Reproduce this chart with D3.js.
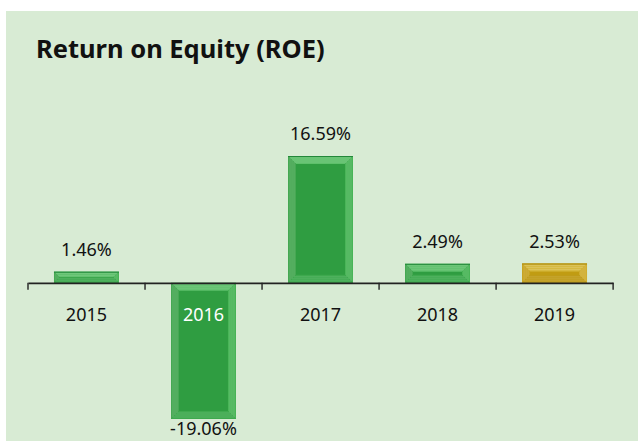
<!DOCTYPE html>
<html>
<head>
<meta charset="utf-8">
<script src="https://cdn.jsdelivr.net/npm/d3@7"></script>
<style>
  html, body { margin: 0; padding: 0; background: #fff; }
  svg { display: block; }
</style>
</head>
<body>
<div id="chart"></div>
<script>
const years = ['2015', '2016', '2017', '2018', '2019']
const roe = [1.46, -19.06, 16.59, 2.49, 2.53]
const highlight = ['2019']

const W = 638
const H = 441

const svg = d3.select('#chart').append('svg').attr('width', W).attr('height', H)

// panel
svg.append('rect').attr('x', 6).attr('y', 11).attr('width', W - 6).attr('height', H - 11)
  .attr('fill', '#d8ebd4')

svg.append('text').attr('x', 36).attr('y', 58)
  .attr('font-family', 'Noto Sans, sans-serif').attr('font-weight', 700).attr('font-size', 25.5)
  .attr('fill', '#111').text('Return on Equity (ROE)')

const x = d3.scaleBand(years, [28, 613]).paddingInner(0.445).paddingOuter(0.222)
// plot bottom cuts the deepest bar
const y = d3.scaleLinear([-17.8, 16.59], [419, 156]).clamp(true)

const colors = {
  green: { face: '#2f9d41', top: '#5ec06b', left: '#46a853', right: '#4ab558', bottom: '#3ea94e', edge: '#23873a' },
  gold: { face: '#c19c12', top: '#d6b940', left: '#c8a424', right: '#d0ae30', bottom: '#bf9b18', edge: '#a8870c' }
}

const bars = svg.append('g')
years.forEach((yr, i) => {
  const v = roe[i]
  const c = highlight.includes(yr) ? colors.gold : colors.green
  const x0 = x(yr), x1 = x(yr) + x.bandwidth()
  const y0 = Math.min(y(v), y(0)), y1 = Math.max(y(v), y(0))
  const b = Math.min(8, (y1 - y0) / 2, (x1 - x0) / 2)
  const g = bars.append('g')
  g.append('rect').attr('x', x0).attr('y', y0).attr('width', x1 - x0).attr('height', y1 - y0).attr('fill', c.face)
  const poly = (pts, fill) => g.append('polygon').attr('points', pts.map(p => p.join(',')).join(' ')).attr('fill', fill)
  poly([[x0, y0], [x1, y0], [x1 - b, y0 + b], [x0 + b, y0 + b]], c.top)
  poly([[x0, y0], [x0 + b, y0 + b], [x0 + b, y1 - b], [x0, y1]], c.left)
  poly([[x1, y0], [x1, y1], [x1 - b, y1 - b], [x1 - b, y0 + b]], c.right)
  poly([[x0, y1], [x0 + b, y1 - b], [x1 - b, y1 - b], [x1, y1]], c.bottom)
  // fine inner lines of the bevel
  for (const k of [2, 4, 6]) {
    if (k >= b) continue
    g.append('rect').attr('x', x0 + k).attr('y', y0 + k).attr('width', x1 - x0 - 2 * k).attr('height', y1 - y0 - 2 * k)
      .attr('fill', 'none').attr('stroke', '#ffffff').attr('stroke-opacity', 0.14).attr('stroke-width', 1)
  }
  if (v >= 0) {
    g.append('line').attr('x1', x0).attr('x2', x1).attr('y1', y0 + 0.5).attr('y2', y0 + 0.5).attr('stroke', c.edge)
  }
})

// axis
const axis = svg.append('g').attr('transform', `translate(0,${y(0)})`)
  .call(d3.axisBottom(x).tickSize(0).tickFormat(''))
axis.select('.domain').attr('stroke', '#222').attr('stroke-width', 1.6)
axis.selectAll('.edge').data(d3.range(years.length + 1)).enter().append('line')
  .attr('x1', i => 28 + i * x.step()).attr('x2', i => 28 + i * x.step())
  .attr('y1', 0).attr('y2', 7).attr('stroke', '#222').attr('stroke-width', 1.4)

svg.append('g').selectAll('text').data(years).enter().append('text')
  .attr('x', d => x(d) + x.bandwidth() / 2).attr('y', y(0) + 38)
  .attr('text-anchor', 'middle')
  .attr('font-family', 'Noto Sans, sans-serif').attr('font-size', 18)
  .attr('fill', (d, i) => (roe[i] < 0 ? '#fff' : '#111'))
  .text(d => d)

svg.append('g').selectAll('text').data(years).enter().append('text')
  .attr('x', d => x(d) + x.bandwidth() / 2)
  .attr('y', (d, i) => (roe[i] >= 0 ? y(roe[i]) - 16 : y(roe[i]) + 16))
  .attr('text-anchor', 'middle')
  .attr('font-family', 'Noto Sans, sans-serif').attr('font-size', 18)
  .attr('fill', '#111')
  .text((d, i) => roe[i].toFixed(2) + '%')
</script>
</body>
</html>
